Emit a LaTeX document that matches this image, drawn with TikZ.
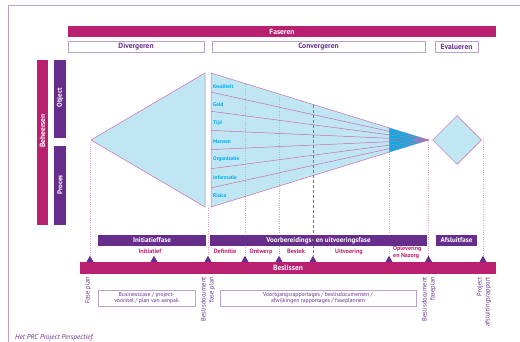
\documentclass[tikz,border=0pt]{standalone}
\usepackage{fontspec}
\setmainfont{PT Sans}
\usetikzlibrary{shapes.geometric}
\definecolor{mag}{RGB}{186,32,112}
\definecolor{pur}{RGB}{102,45,138}
\definecolor{lblue}{RGB}{192,230,243}
\definecolor{dblue}{RGB}{0,176,228}
\definecolor{cyantext}{RGB}{0,170,235}
\definecolor{lpur}{RGB}{185,160,205}
\definecolor{pinkline}{RGB}{225,160,195}
\definecolor{shapeedge}{RGB}{200,110,170}
\definecolor{dashpink}{RGB}{205,70,145}
\newcommand{\fs}[1]{\fontsize{#1}{#1}\selectfont}
\newcommand{\fsl}[2]{\fontsize{#1}{#2}\selectfont}
\tikzset{
  magbar/.style={fill=mag, inner sep=0, text=white, font=\bfseries\fs{7.5}},
  purbar/.style={fill=pur, inner sep=0, text=white, font=\bfseries\fs{7}},
  headbox/.style={draw=lpur, line width=0.7pt, fill=white, inner sep=0, minimum height=11pt, text=pur, font=\bfseries\fs{7.5}},
  docbox/.style={draw=lpur, line width=0.6pt, inner sep=0, minimum height=16pt, text=pur, font=\fsl{5.7}{6.7}, align=center},
  catlabel/.style={text=cyantext, font=\bfseries\fs{5.3}, anchor=west, inner sep=0},
  sublabel/.style={text=mag, font=\bfseries\fs{6.2}, inner sep=0},
  doclabel/.style={text=pur, font=\fsl{6.5}{8}, rotate=90, anchor=east, align=right, inner sep=0},
  shapeline/.style={draw=shapeedge, line width=0.5pt},
  vdot/.style={draw=pinkline, line width=0.5pt, dash pattern=on 1pt off 1.3pt},
  vdash/.style={draw=dashpink, line width=1pt, dash pattern=on 3pt off 2pt},
  marker/.style={regular polygon, regular polygon sides=3, fill=pur, inner sep=0, minimum size=8pt, anchor=south},
}
\begin{document}
\begin{tikzpicture}[x=1pt,y=-1pt]
\useasboundingbox (0,0) rectangle (520,342);
% frame
\draw[lpur, line width=0.6pt] (8,342) -- (8,5) -- (520,5);

% top headers
\node[magbar, minimum width=428pt, minimum height=11pt] (faseren) at (282,31.5) {Faseren};
\node[headbox, minimum width=136pt] (div) at (136,46.5) {Divergeren};
\node[headbox, minimum width=213pt] (conv) at (318.5,46.5) {Convergeren};
\node[headbox, minimum width=43pt] (eval) at (456.5,46.5) {Evalueren};

% left bars
\node[fill=mag, inner sep=0, minimum width=11pt, minimum height=165pt] (beh) at (42.5,142.5) {};
\node[text=white, font=\bfseries\fs{7.5}, rotate=90, inner sep=0] (behtxt) at (42.5,131) {Beheersen};
\node[fill=pur, inner sep=0, minimum width=12pt, minimum height=78pt] (obj) at (60,99) {};
\node[text=white, font=\bfseries\fs{7}, rotate=90, inner sep=0] (objtxt) at (60,98) {Object};
\node[fill=pur, inner sep=0, minimum width=12pt, minimum height=79pt] (proc) at (60,185.5) {};
\node[text=white, font=\bfseries\fs{7}, rotate=90, inner sep=0] (proctxt) at (60,185) {Proces};

% diverging triangle
\coordinate (dapex) at (91,140);
\coordinate (dtop) at (205,73);
\coordinate (dbot) at (205,207);
\draw[shapeline, fill=lblue] (dapex) -- (dtop) -- (dbot) -- cycle;

% converging shape
\coordinate (ctl) at (211,73);
\coordinate (cbl) at (211,207);
\coordinate (capex) at (428.5,140);
\draw[shapeline, fill=lblue] (ctl) -- (capex) -- (cbl) -- cycle;
\coordinate (dkt) at (389,128);
\coordinate (dkb) at (389,152);
\fill[dblue] (dkt) -- (capex) -- (dkb) -- cycle;
\draw[shapeline] (dkt) -- (dkb);

% markers (positions on decision bar)
\node[marker] (m1) at (90,262) {};
\node[marker] (m2) at (154,262) {};
\node[marker] (m3) at (208,262) {};
\node[marker] (m4) at (245,262) {};
\node[marker] (m5) at (279,262) {};
\node[marker] (m6) at (313,262) {};
\node[marker] (m7) at (389,262) {};
\node[marker] (m8) at (428.5,262) {};
\node[marker] (m9) at (483,262) {};

% vertical guide lines (behind bars)
\coordinate (v1) at (90,142);
\coordinate (v3) at (208,208);
\coordinate (v4) at (245,84);
\coordinate (v5) at (279,94.5);
\coordinate (v6) at (313,105);
\coordinate (v9) at (483,140);
\draw[vdot] (v1) -- (m1.north);
\draw[vdot] (v3) -- (m3.north);
\draw[vdot] (v4) -- (m4.north);
\draw[vdot] (v5) -- (m5.north);
\draw[vdash] (v6) -- (m6.north);
\draw[vdot] (dkb) -- (m7.north);
\draw[vdot] (capex) -- (m8.north);
\draw[vdot] (v9) -- (m9.north);

\foreach \i in {1,...,6} {
  \coordinate (l\i) at (211,{73+\i*134/7});
  \draw[shapeline] (l\i) -- (capex);
}
\node[catlabel] (k1) at (213,87) {Kwaliteit};
\node[catlabel] (k2) at (213,105) {Geld};
\node[catlabel] (k3) at (213,123) {Tijd};
\node[catlabel] (k4) at (213,142) {Mensen};
\node[catlabel] (k5) at (213,159.5) {Organisatie};
\node[catlabel] (k6) at (213,178) {Informatie};
\node[catlabel] (k7) at (213,196) {Risico};

% diamond
\node[diamond, shapeline, fill=lblue, minimum width=49pt, minimum height=49pt, inner sep=0] (diam) at (457,140) {};

% phase bars
\node[purbar, minimum width=108pt, minimum height=11pt] (init) at (152,240.5) {Initiatieffase};
\node[purbar, minimum width=217pt, minimum height=11pt] (voor) at (318.5,240.5) {Voorbereidings- en uitvoeringsfase};
\node[purbar, minimum width=41pt, minimum height=11pt] (afsl) at (456.5,240.5) {Afsluitfase};

\node[sublabel] (s1) at (150,251.5) {Initiatief};
\node[sublabel] (s2) at (225,251.5) {Definitie};
\node[sublabel] (s3) at (261,251.5) {Ontwerp};
\node[sublabel] (s4) at (296,251.5) {Bestek};
\node[sublabel] (s5) at (349,251.5) {Uitvoering};
\node[sublabel, anchor=west, align=left, font=\bfseries\fsl{6}{6.2}] (s6) at (393,252.5) {Oplevering\\en Nazorg};

% beslissen bar
\node[magbar, minimum width=416pt, minimum height=12pt] (besl) at (288,268) {Beslissen};

% documents
\node[doclabel] (d1) at (88,277) {Fase plan};
\node[doclabel] (d2) at (208,277) {Beslisdocument\\fase plan};
\node[doclabel] (d3) at (429,277) {Beslisdocument\\faseplan};
\node[doclabel] (d4) at (484,277) {Project\\afsluitingsrapport};

\node[docbox, minimum width=97pt] (b1) at (146.5,298) {Businesscase / project-\\voorstel / plan van aanpak};
\node[docbox, minimum width=196pt] (b2) at (318,298) {Voortgangsrapportages / beslisdocumenten /\\afwijkingen rapportages / faseplannen};

% caption
\node[anchor=west, inner sep=0, text=pur, font=\itshape\fs{7}] (cap) at (15,337.5) {Het PRC Project Perspectief.};
\end{tikzpicture}
\end{document}
